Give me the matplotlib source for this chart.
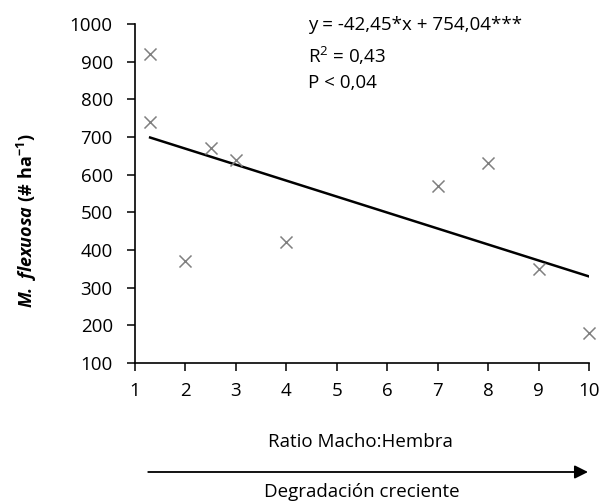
import numpy as np
import matplotlib.pyplot as plt

plt.rcParams['font.family'] = ['Open Sans', 'DejaVu Sans']
plt.rcParams['mathtext.fontset'] = 'custom'
plt.rcParams['mathtext.rm'] = 'Open Sans'
plt.rcParams['mathtext.it'] = 'Open Sans:italic'
plt.rcParams['mathtext.bf'] = 'Open Sans:bold'
plt.rcParams['mathtext.bfit'] = 'Open Sans:italic:bold'
plt.rcParams['mathtext.default'] = 'regular'

# data
ratio = [1.3, 1.3, 2, 2.5, 3, 4, 7, 8, 9, 10]
density = [920, 740, 370, 670, 640, 420, 570, 630, 350, 180]
slope = -42.45
intercept = 754.04
xticks = list(range(1, 11))
yticks = list(range(100, 1001, 100))

fig = plt.figure(figsize=(6, 5.04), dpi=100)
ax = fig.add_axes([0.225, 0.280, 0.757, 0.672])

ax.scatter(ratio, density, marker='x', color='#808080', s=75, linewidths=1.1, zorder=3, clip_on=False)
xl = np.array([min(ratio), max(ratio)])
ax.plot(xl, slope * xl + intercept, color='black', lw=1.8)

ax.set_xlim(1, 10)
ax.set_ylim(100, 1000)
ax.set_xticks(xticks)
ax.set_yticks(yticks)
ax.tick_params(labelsize=13.5, direction='out', length=6, width=1.1, color='black')
ax.tick_params(axis='x', pad=8)
ax.tick_params(axis='y', pad=10)
for s in ['top', 'right']:
    ax.spines[s].set_visible(False)
for s in ['left', 'bottom']:
    ax.spines[s].set_linewidth(1.2)

# y label: bold italic species name + bold upright units
fig.text(0.045, 0.563, r'$\mathbfit{M.\ flexuosa}\ \mathbf{(\#\ ha^{-1})}$', rotation=90,
         ha='center', va='center', fontsize=13)

fig.text(0.513, 0.950, 'y = -42,45*x + 754,04***', fontsize=13.5, va='center')
fig.text(0.513, 0.889, 'R$^2$ = 0,43', fontsize=13.5, va='center')
fig.text(0.513, 0.836, 'P < 0,04', fontsize=13.5, va='center')

fig.text(0.600, 0.123, 'Ratio Macho:Hembra', fontsize=13.5, ha='center', va='center')
ax.annotate('', xy=(0.980, 0.0635), xytext=(0.247, 0.0635), xycoords='figure fraction',
            textcoords='figure fraction', annotation_clip=False,
            arrowprops=dict(arrowstyle='-|>', color='black', lw=1.3, mutation_scale=20,
                            shrinkA=0, shrinkB=0))
fig.text(0.603, 0.024, 'Degradación creciente', fontsize=13.5, ha='center', va='center')

fig.savefig('out.png', dpi=100)
